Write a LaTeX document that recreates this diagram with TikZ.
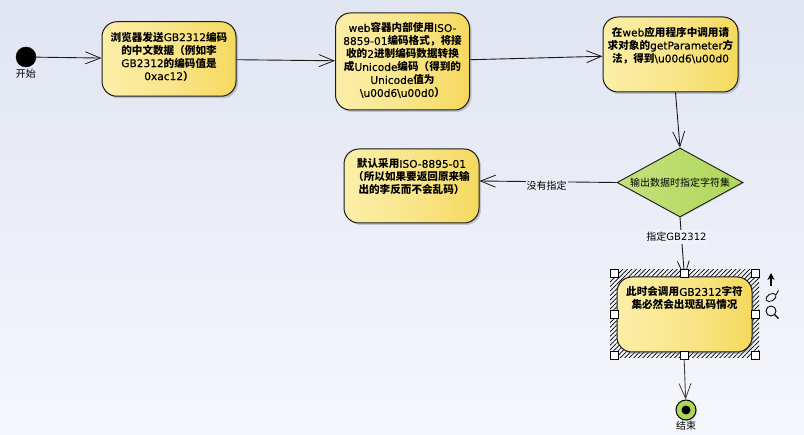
\documentclass[tikz,border=0pt]{standalone}
\usepackage{fontspec}
\setmainfont{DejaVu Sans}
\newfontfamily\latb{DejaVu Sans}[FakeBold=0.35]
\newfontfamily\cjkfam{Noto Sans CJK SC}
\newcommand{\zh}[1]{{\cjkfam\bfseries #1}}
\newcommand{\zr}[1]{{\cjkfam #1}}
\newcommand{\bs}{\textbackslash}
\usetikzlibrary{shapes.geometric,arrows.meta,shadows,patterns.meta,positioning}
\definecolor{bgtop}{HTML}{E0E5F2}
\definecolor{bgbot}{HTML}{F6F7FC}
\definecolor{boxl}{HTML}{FBEEA8}
\definecolor{boxr}{HTML}{F5D95E}
\definecolor{diaml}{HTML}{C6E07E}
\definecolor{diamr}{HTML}{ADD75A}
\definecolor{inkc}{HTML}{1A1A1A}
\tikzset{
  x=1pt,y=-1pt,
  actbox/.style={draw=inkc,line width=1pt,rounded corners=15pt,left color=boxl,right color=boxr,
    middle color=boxl!60!boxr,
    inner sep=0pt,drop shadow={shadow xshift=2pt,shadow yshift=-2pt,opacity=.3,fill=black!60}},
  acttext/.style={align=center,inner sep=0pt,font=\fontsize{10.6}{13}\selectfont\latb,text=black,anchor=north},
  flow/.style={draw=inkc,line width=.9pt,-{Straight Barb[length=15pt,width=12pt,line width=.8pt]}},
  plain/.style={font=\fontsize{10}{12}\selectfont,text=black,inner sep=1pt},
  handle/.style={draw=black,fill=white,line width=.8pt,minimum size=8pt,inner sep=0pt},
}
\begin{document}
\begin{tikzpicture}
\useasboundingbox (0,0) rectangle (804,435);
\shade[top color=bgtop,bottom color=bgbot] (0,0) rectangle (804,435);

% boxes
\node[actbox,minimum width=134pt,minimum height=74.5pt] (b1) at (169,59) {};
\node[actbox,minimum width=134pt,minimum height=97pt] (b2) at (402.5,61.5) {};
\node[actbox,minimum width=135pt,minimum height=75pt] (b3) at (670.5,54.5) {};
\node[actbox,minimum width=135pt,minimum height=74pt] (b4) at (411.5,186) {};
\node[diamond,draw=inkc,line width=.9pt,left color=diaml,right color=diamr,aspect=1.83,
  minimum width=126pt,minimum height=69pt,inner sep=0pt,
  drop shadow={shadow xshift=1pt,shadow yshift=-1pt,opacity=.2,fill=black!60}] (d) at (680,182.5) {};

\coordinate (startlab) at (26,74);
\node[circle,fill=black,draw=black,minimum size=20pt,inner sep=0pt] (start) at (26,57) {};
\node[circle,draw=black,line width=1pt,fill=diamr,minimum size=20pt,inner sep=0pt,
  drop shadow={shadow xshift=1pt,shadow yshift=-1pt,opacity=.3,fill=black!60}] (end) at (686,410) {};
\node[circle,fill=black,minimum size=9pt,inner sep=0pt] (endin) at (end.center) {};

% hatched selection frame and final box come after its incoming arrow
\draw[flow] (start) -- (b1);
\draw[flow] (b1) -- (b2);
\draw[flow] (b2) -- (b3);
\draw[flow] ([xshift=5pt]b3.south) -- (d.north);
\draw[flow] (d.west) -- node[plain,fill=bgtop!55!bgbot,pos=.51,yshift=-3.5pt,inner ysep=2pt] (nolab) {\zr{没有指定}} ([yshift=5pt]b4.east);
\coordinate (b5in) at (684.5,277);
\draw[flow] (d.south) -- node[plain,fill=bgtop!30!bgbot,pos=.33,xshift=-5pt,inner ysep=2pt] (gblab) {\zr{指定}GB2312} (b5in);

\fill[pattern={Lines[angle=45,distance=3.2pt,line width=.7pt]},pattern color=black] (610,270) rectangle (759,358);
\node[actbox,minimum width=135pt,minimum height=75pt] (b5) at (684.5,314.5) {};
\node[handle] (h1) at (614,273.5) {};
\node[handle] (h2) at (684,273.5) {};
\node[handle] (h3) at (755,273.5) {};
\node[handle] (h4) at (614,314) {};
\node[handle] (h5) at (755,314) {};
\node[handle] (h6) at (614,355) {};
\node[handle] (h7) at (684,355) {};
\node[handle] (h8) at (755,355) {};
\draw[flow,draw=black!75] (h7) -- (end);

% texts
\node[acttext] (t1) at ([yshift=-10.5pt]b1.north) {\zh{浏览器发送}GB2312\zh{编码}\\\zh{的中文数据（例如李}\\GB2312\zh{的编码值是}\\0xac12\zh{）}};
\node[acttext] (t2) at ([yshift=-10pt]b2.north) {web\zh{容器内部使用}ISO-\\8859-01\zh{编码格式，将接}\\\zh{收的}2\zh{进制编码数据转换}\\\zh{成}Unicode\zh{编码（得到的}\\Unicode\zh{值为}\\\bs u00d6\bs u00d0\zh{）}};
\node[acttext] (t3) at ([yshift=-10.5pt]b3.north) {\zh{在}web\zh{应用程序中调用请}\\\zh{求对象的}getParameter\zh{方}\\\zh{法，得到}\bs u00d6\bs u00d0};
\node[acttext] (t4) at ([yshift=-10pt]b4.north) {\zh{默认采用}ISO-8895-01\\\zh{（所以如果要返回原来输}\\\zh{出的李反而不会乱码）}};
\node[acttext] (t5) at ([yshift=-10pt]b5.north) {\zh{此时会调用}GB2312\zh{字符}\\\zh{集必然会出现乱码情况}};
\node[plain] (t6) at (d.center) {\zr{输出数据时指定字符集}};
\node[plain] (l1) at (startlab) {\zr{开始}};
\node[plain] (l2) at (686,426) {\zr{结束}};

% selection tool icons
\draw[black,line width=1.1pt,-{Stealth[length=7pt,width=7pt]}] (771,286) -- (771,273);
\node[draw=black,line width=.8pt,ellipse,rotate=30,minimum width=11pt,minimum height=7pt,inner sep=0pt] (key) at (771,297.5) {};
\draw[black,line width=.8pt] (key.east) -- (778.5,290.5);
\draw[black,line width=.9pt] (771,311) circle (5pt);
\draw[black,line width=1.2pt] (774.5,314.5) -- (778.5,318.5);
\end{tikzpicture}
\end{document}
